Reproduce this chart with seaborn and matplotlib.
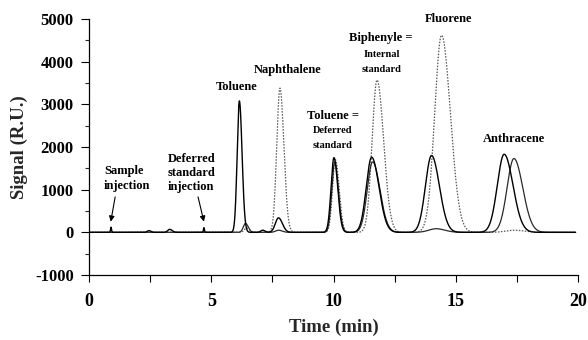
import numpy as np
import pandas as pd
import matplotlib
matplotlib.use("Agg")
import matplotlib.pyplot as plt
import seaborn as sns

# ---- data (retention time min, height R.U., left/right widths min) ----
rt_a = [0.90, 2.45, 3.30, 4.70, 6.15, 7.10, 7.75, 10.02, 11.56, 14.01, 16.98]
h_a = [120, 40, 70, 110, 3080, 50, 340, 1750, 1760, 1800, 1830]
wl_a = [0.02, 0.07, 0.08, 0.02, 0.09, 0.08, 0.13, 0.12, 0.22, 0.25, 0.28]
wr_a = [0.02, 0.08, 0.10, 0.02, 0.11, 0.10, 0.16, 0.15, 0.30, 0.32, 0.36]

rt_b = [6.45, 7.81, 10.08, 11.78, 14.42, 17.40]
h_b = [100, 3380, 1700, 3570, 4620, 50]
wl_b = [0.10, 0.13, 0.12, 0.20, 0.28, 0.35]
wr_b = [0.12, 0.16, 0.15, 0.27, 0.36, 0.40]

rt_c = [6.40, 7.75, 10.05, 11.60, 14.20, 17.38]
h_c = [210, 50, 1650, 1650, 85, 1730]
wl_c = [0.09, 0.12, 0.12, 0.22, 0.30, 0.28]
wr_c = [0.11, 0.15, 0.15, 0.30, 0.35, 0.36]

t_start, t_end = 0.0, 19.9

x_ticks = [0, 5, 10, 15, 20]
y_ticks = [-1000, 0, 1000, 2000, 3000, 4000, 5000]

labels = ["Sample\ninjection", "Deferred\nstandard\ninjection", "Toluene", "Naphthalene",
          "Toluene =", "Deferred", "standard", "Biphenyle =", "Internal", "standard",
          "Fluorene", "Anthracene"]


def trace(t, rts, hs, wls, wrs):
    y = np.zeros_like(t)
    for r, h, wl, wr in zip(rts, hs, wls, wrs):
        w = np.where(t < r, wl, wr)
        y += h * np.exp(-0.5 * ((t - r) / w) ** 2)
    return y


t = np.linspace(t_start, t_end, 4000)
df = pd.DataFrame({
    "t": t,
    "A": trace(t, rt_a, h_a, wl_a, wr_a),
    "B": trace(t, rt_b, h_b, wl_b, wr_b),
    "C": trace(t, rt_c, h_c, wl_c, wr_c),
})

sns.set_theme(style="ticks")
plt.rcParams["font.family"] = ["Liberation Serif", "DejaVu Serif"]
plt.rcParams["font.weight"] = "bold"

fig = plt.figure(figsize=(5.88, 3.40), dpi=100)
ax = fig.add_axes([89 / 588, 1 - 275 / 340, 489 / 588, 256 / 340])

sns.lineplot(data=df, x="t", y="B", ax=ax, color="#555555", lw=0.9,
             linestyle=(0, (1.2, 1.2)), estimator=None, sort=False)
sns.lineplot(data=df, x="t", y="C", ax=ax, color="#2a2a2a", lw=0.9,
             estimator=None, sort=False)
sns.lineplot(data=df, x="t", y="A", ax=ax, color="#000000", lw=1.0,
             estimator=None, sort=False)

ax.set_xlim(0, 20)
ax.set_ylim(-1000, 5000)
ax.set_xticks(x_ticks)
ax.set_xticks([2.5, 7.5, 12.5, 17.5], minor=True)
ax.set_yticks(y_ticks)
ax.set_yticks([-500, 500, 1500, 2500, 3500, 4500], minor=True)
ax.set_xticklabels([str(v) for v in x_ticks])
ax.set_yticklabels([str(v) for v in y_ticks])

ax.tick_params(axis="x", which="both", direction="out", length=5, width=0.8,
               pad=8, labelsize=13, colors="black")
ax.tick_params(axis="y", which="major", direction="out", length=6, width=0.8,
               pad=5, labelsize=12, colors="black")
ax.tick_params(axis="y", which="minor", direction="out", length=3, width=0.8)
for lab in ax.get_xticklabels() + ax.get_yticklabels():
    lab.set_fontweight("bold")

for s in ["top", "right"]:
    ax.spines[s].set_visible(False)
for s in ["left", "bottom"]:
    ax.spines[s].set_linewidth(0.9)
    ax.spines[s].set_color("black")

ax.set_xlabel("Time (min)", fontsize=13.5, fontweight="bold")
ax.set_ylabel("Signal (R.U.)", fontsize=13.5, fontweight="bold")
ax.xaxis.set_label_coords(0.5, -0.17)
ax.xaxis.label.set_va("top")
ax.yaxis.set_label_coords(-70 / 489, 0.5)
ax.yaxis.label.set_va("center")

fs = 9
fs_s = 7.5
kw = dict(fontweight="bold", color="black", va="center")
ax.text(0.61, 1260, labels[0], ha="left", fontsize=fs, linespacing=1.25, **kw)
ax.text(3.23, 1390, labels[1], ha="left", fontsize=fs, linespacing=1.25, **kw)
ax.text(6.03, 3400, labels[2], ha="center", fontsize=fs, **kw)
ax.text(8.12, 3800, labels[3], ha="center", fontsize=fs, **kw)
ax.text(9.96, 2720, labels[4], ha="center", fontsize=fs, **kw)
ax.text(9.95, 2380, labels[5], ha="center", fontsize=fs_s, **kw)
ax.text(9.95, 2045, labels[6], ha="center", fontsize=fs_s, **kw)
ax.text(11.92, 4545, labels[7], ha="center", fontsize=fs, **kw)
ax.text(11.97, 4170, labels[8], ha="center", fontsize=fs_s, **kw)
ax.text(11.97, 3825, labels[9], ha="center", fontsize=fs_s, **kw)
ax.text(14.72, 4990, labels[10], ha="center", fontsize=fs, clip_on=False, **kw)
ax.text(17.40, 2180, labels[11], ha="center", fontsize=fs, **kw)

arrow = dict(arrowstyle="-|>", color="black", lw=0.8, mutation_scale=8,
             shrinkA=0, shrinkB=0)
ax.annotate("", xy=(0.89, 250), xytext=(1.07, 830), arrowprops=arrow)
ax.annotate("", xy=(4.70, 250), xytext=(4.46, 830), arrowprops=arrow)

fig.savefig("out.png", dpi=100)
